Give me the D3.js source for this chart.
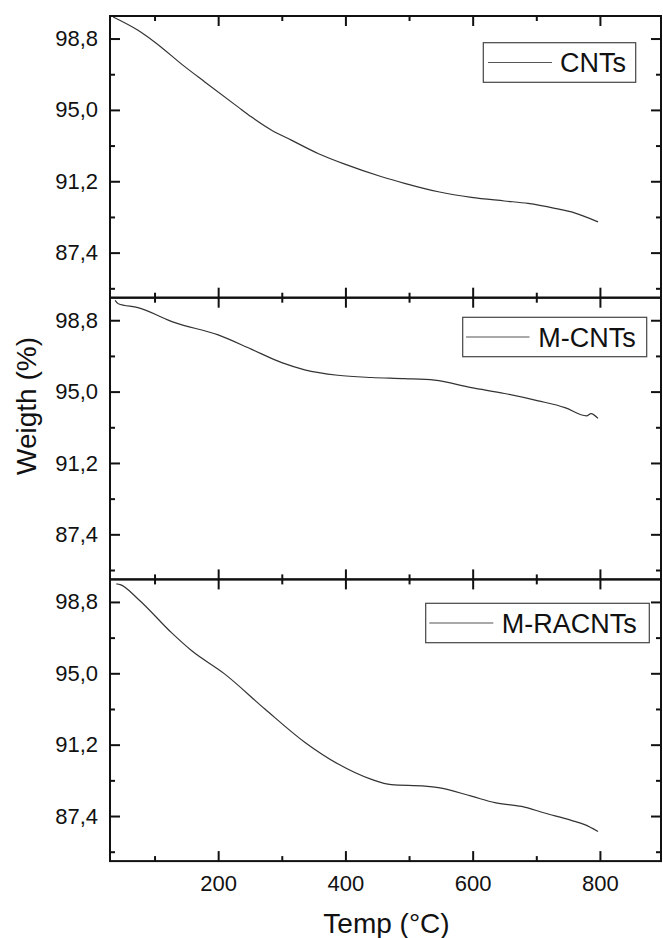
<!DOCTYPE html>
<html>
<head>
<meta charset="utf-8">
<script src="https://cdn.jsdelivr.net/npm/d3@7"></script>
<style>
  html, body { margin: 0; padding: 0; background: #fff; }
  svg { display: block; font-family: "Liberation Sans", Arial, sans-serif; }
</style>
</head>
<body>
<script>
// ---- data ----
const seriesNames = ["CNTs", "M-CNTs", "M-RACNTs"];

const cntsTemp = [35, 74, 100, 148, 179, 231, 252, 284, 315, 357, 399, 457, 493, 546, 598, 650, 687, 729, 760, 797];
const cntsWeight = [99.95, 99.24, 98.62, 97.29, 96.49, 95.16, 94.63, 93.92, 93.39, 92.68, 92.11, 91.44, 91.09, 90.64, 90.34, 90.15, 90.02, 89.76, 89.52, 89.04];

const mcntsTemp = [38, 43, 74, 132, 200, 252, 300, 336, 388, 441, 493, 540, 598, 650, 703, 745, 779, 786, 797];
const mcntsWeight = [99.86, 99.68, 99.47, 98.67, 98.02, 97.26, 96.54, 96.16, 95.87, 95.75, 95.69, 95.61, 95.21, 94.90, 94.51, 94.15, 93.71, 93.83, 93.57];

const mracntsTemp = [40, 46, 74, 127, 158, 210, 273, 336, 388, 441, 472, 525, 546, 598, 635, 677, 713, 755, 776, 797];
const mracntsWeight = [99.76, 99.72, 98.96, 97.15, 96.21, 94.97, 93.11, 91.33, 90.18, 89.35, 89.07, 88.99, 88.91, 88.46, 88.11, 87.91, 87.56, 87.17, 86.94, 86.58];

const xMajorTicks = [200, 400, 600, 800];
const xMinorTicks = [100, 300, 500, 700];
const yMajorTicks = [87.4, 91.2, 95.0, 98.8];
const yMinorTicks = [85.5, 89.3, 93.1, 96.9];

const xTitle = "Temp (°C)";
const yTitle = "Weigth (%)";

// ---- layout ----
const W = 663, H = 938;
const left = 110, right = 661;
const panelTop = 16, panelH = 281.7;

const svg = d3.select("body").append("svg").attr("width", W).attr("height", H);

const x = d3.scaleLinear().domain([30, 896]).range([left, right]);

const panels = [
  { name: seriesNames[0], t: cntsTemp, w: cntsWeight, legend: { x0: 483.3, x1: 635.7, y0: 42.7, y1: 82.3, lx0: 488, lx1: 552, tx: 560 } },
  { name: seriesNames[1], t: mcntsTemp, w: mcntsWeight, legend: { x0: 462.7, x1: 646.7, y0: 317.3, y1: 356.7, lx0: 466, lx1: 529.5, tx: 538.3 } },
  { name: seriesNames[2], t: mracntsTemp, w: mracntsWeight, legend: { x0: 425.7, x1: 649.3, y0: 603.3, y1: 642.7, lx0: 429.3, lx1: 493.3, tx: 501.7 } }
];

const fmt = v => d3.format(".1f")(v).replace(".", ",");
const axisColor = "#111";

panels.forEach((p, i) => {
  const top = panelTop + i * panelH;
  const bot = top + panelH;
  const y = d3.scaleLinear().domain([85, 100]).range([bot, top]);
  const g = svg.append("g");

  // curve
  const data = p.t.map((t, k) => [t, p.w[k]]);
  g.append("path")
    .datum(data)
    .attr("fill", "none")
    .attr("stroke", "#333")
    .attr("stroke-width", 1.2)
    .attr("d", d3.line().x(d => x(d[0])).y(d => y(d[1])).curve(d3.curveMonotoneX));

  // axes with inward ticks
  const mk = (axisGen, tr) => {
    const a = g.append("g").attr("transform", tr).call(axisGen);
    a.select(".domain").remove();
    a.selectAll("line").attr("stroke", axisColor).attr("stroke-width", 2);
    return a;
  };
  // bottom
  mk(d3.axisBottom(x).tickValues(xMajorTicks).tickSize(-10).tickFormat(""), `translate(0,${bot})`);
  mk(d3.axisBottom(x).tickValues(xMinorTicks).tickSize(-5).tickFormat(""), `translate(0,${bot})`);
  // top
  mk(d3.axisTop(x).tickValues(xMajorTicks).tickSize(-10).tickFormat(""), `translate(0,${top})`);
  mk(d3.axisTop(x).tickValues(xMinorTicks).tickSize(-5).tickFormat(""), `translate(0,${top})`);
  // left
  const la = mk(d3.axisLeft(y).tickValues(yMajorTicks).tickSize(-10).tickPadding(22).tickFormat(fmt), `translate(${left},0)`);
  la.selectAll("text")
    .attr("font-size", 22)
    .attr("fill", "#111")
    .attr("font-family", "Liberation Sans, Arial, sans-serif")
    .attr("x", -12);
  mk(d3.axisLeft(y).tickValues(yMinorTicks).tickSize(-5).tickFormat(""), `translate(${left},0)`);
  // right
  mk(d3.axisRight(y).tickValues(yMajorTicks).tickSize(-10).tickFormat(""), `translate(${right},0)`);
  mk(d3.axisRight(y).tickValues(yMinorTicks).tickSize(-5).tickFormat(""), `translate(${right},0)`);

  // frame
  g.append("rect")
    .attr("x", left).attr("y", top)
    .attr("width", right - left).attr("height", panelH)
    .attr("fill", "none").attr("stroke", axisColor).attr("stroke-width", 2);

  // x labels only on bottom panel
  if (i === panels.length - 1) {
    const xa = g.append("g").attr("transform", `translate(0,${bot})`)
      .call(d3.axisBottom(x).tickValues(xMajorTicks).tickSize(0).tickPadding(0).tickFormat(d3.format("d")));
    xa.select(".domain").remove();
    xa.selectAll("text")
      .attr("font-size", 22)
      .attr("fill", "#111")
      .attr("font-family", "Liberation Sans, Arial, sans-serif")
      .attr("dy", null)
      .attr("y", 891 - bot);
  }

  // legend
  const L = p.legend;
  g.append("rect")
    .attr("x", L.x0).attr("y", L.y0)
    .attr("width", L.x1 - L.x0).attr("height", L.y1 - L.y0)
    .attr("fill", "#fff").attr("stroke", "#444").attr("stroke-width", 1.2);
  const cy = (L.y0 + L.y1) / 2;
  g.append("line")
    .attr("x1", L.lx0).attr("x2", L.lx1).attr("y1", cy).attr("y2", cy)
    .attr("stroke", "#555").attr("stroke-width", 1.2);
  g.append("text")
    .attr("x", L.tx).attr("y", cy + 9.5)
    .attr("font-size", 27).attr("fill", "#111")
    .text(p.name);
});

// axis titles
svg.append("text")
  .attr("x", (left + right) / 2 + 1).attr("y", 933)
  .attr("text-anchor", "middle")
  .attr("font-size", 28).attr("fill", "#111")
  .text(xTitle);

svg.append("text")
  .attr("transform", "translate(36,406) rotate(-90)")
  .attr("text-anchor", "middle")
  .attr("font-size", 28).attr("fill", "#111")
  .text(yTitle);
</script>
</body>
</html>
